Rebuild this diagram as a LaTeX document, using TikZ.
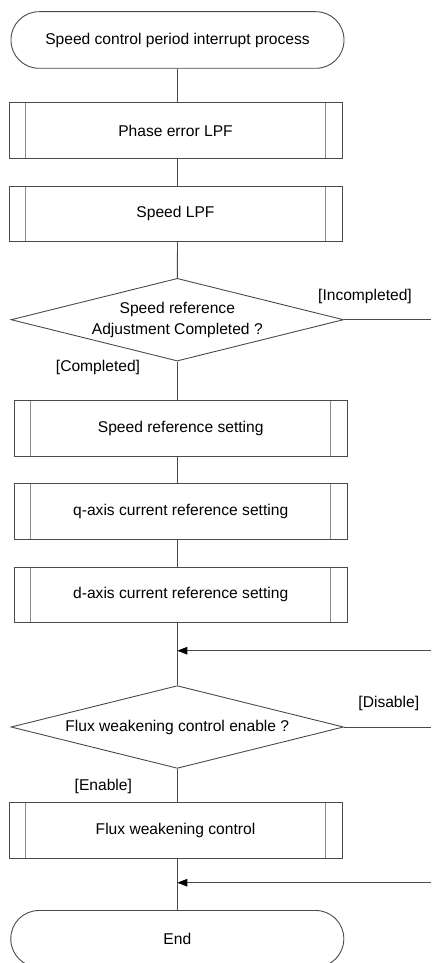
\documentclass[tikz,border=0pt]{standalone}
\usepackage{fontspec}
\setmainfont{Liberation Sans}
\usetikzlibrary{arrows.meta,positioning,shapes.geometric}
\definecolor{edgegray}{HTML}{4A4A4A}
\definecolor{innergray}{HTML}{8A8A8A}
\tikzset{
  flow/.style={draw=edgegray,line width=0.9pt},
  mergearrow/.style={flow,-{Triangle[length=10pt,width=7.5pt,color=black]}},
  terminal/.style={draw=edgegray,line width=0.9pt,rectangle,rounded corners=28pt,minimum width=333pt,minimum height=56.6pt,inner sep=0pt},
  subproc/.style={draw=edgegray,line width=0.9pt,rectangle,minimum width=333pt,minimum height=55.6pt,inner sep=0pt,
    path picture={
      \draw[innergray,line width=0.9pt] ([xshift=16.7pt]path picture bounding box.north west) -- ([xshift=16.7pt]path picture bounding box.south west);
      \draw[innergray,line width=0.9pt] ([xshift=-16.7pt]path picture bounding box.north east) -- ([xshift=-16.7pt]path picture bounding box.south east);}},
  decision/.style={draw=edgegray,line width=0.9pt,diamond,aspect=4,minimum width=332.5pt,minimum height=82.7pt,inner sep=0pt,align=center},
  guard/.style={inner sep=0pt}
}
\begin{document}
\begin{tikzpicture}[x=1pt,y=-1pt,font=\fontsize{15.6}{20.7}\selectfont]
  \useasboundingbox (0,0) rectangle (431,963);
  % main column
  \node[terminal] (start) at (177.5,40) {Speed control period interrupt process};
  \node[subproc] (phaselpf) at (175.5,130.5) {Phase error LPF};
  \node[subproc] (speedlpf) at (175.5,213.8) {Speed LPF};
  \node[decision] (refdone) at (177.3,319.7) {Speed reference\\Adjustment Completed ?};
  \node[subproc] (refset) at (180.7,428.3) {Speed reference setting};
  \node[subproc] (iqref) at (180.7,511.5) {q-axis current reference setting};
  \node[subproc] (idref) at (180.7,594.8) {d-axis current reference setting};
  \node[decision] (fwenable) at (177.3,727) {Flux weakening control enable ?};
  \node[subproc] (fwctrl) at (175.5,830.5) {Flux weakening control};
  \node[terminal] (finish) at (177.3,938.8) {End};
  % branch labels
  \node[guard] (incomp) at (365,296) {[Incompleted]};
  \node[guard] (comp) at (98,367.3) {[Completed]};
  \node[guard] (disable) at (388.8,703.3) {[Disable]};
  \node[guard] (enable) at (103.3,786.7) {[Enable]};
  % off-page ends
  \coordinate (exitA) at (431,319.7);
  \coordinate (backA) at (431,650.7);
  \coordinate (exitB) at (431,727);
  \coordinate (backB) at (431,882.7);
  % connectors
  \draw[flow] (start.south) -- (start.south |- phaselpf.north);
  \draw[flow] (start.south |- phaselpf.south) -- (start.south |- speedlpf.north);
  \draw[flow] (start.south |- speedlpf.south) -- (refdone.north);
  \draw[flow] (refdone.south) -- (refdone.south |- refset.north);
  \draw[flow] (refdone.south |- refset.south) -- (refdone.south |- iqref.north);
  \draw[flow] (refdone.south |- iqref.south) -- (refdone.south |- idref.north);
  \draw[flow] (refdone.south |- idref.south) -- (fwenable.north);
  \draw[flow] (refdone.east) -- (exitA);
  \draw[mergearrow] (backA) -- (backA -| fwenable.north);
  \draw[flow] (fwenable.south) -- (fwenable.south |- fwctrl.north);
  \draw[flow] (fwenable.south |- fwctrl.south) -- (finish.north);
  \draw[flow] (fwenable.east) -- (exitB);
  \draw[mergearrow] (backB) -- (backB -| finish.north);
\end{tikzpicture}
\end{document}
